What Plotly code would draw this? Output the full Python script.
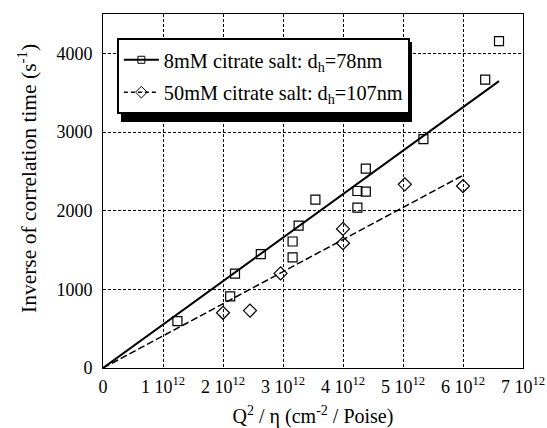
import plotly.graph_objects as go

# 8 mM citrate salt data (x in cm^-2/Poise, y in s^-1)
x_8mM = [1.24e12, 2.12e12, 2.20e12, 2.63e12, 3.16e12, 3.16e12, 3.26e12, 3.54e12,
         4.24e12, 4.24e12, 4.38e12, 4.38e12, 5.34e12, 6.37e12, 6.60e12]
y_8mM = [595, 910, 1200, 1447, 1405, 1608, 1811, 2141,
         2039, 2250, 2242, 2534, 2910, 3667, 4154]
# 50 mM citrate salt data
x_50mM = [2.00e12, 2.45e12, 2.96e12, 4.00e12, 4.00e12, 5.03e12, 6.00e12]
y_50mM = [702, 730, 1202, 1586, 1768, 2335, 2313]
# linear fits through origin
fit8_x = [0, 6.6e12]
fit8_y = [0, 3646]
fit50_x = [0, 6.0e12]
fit50_y = [0, 2449]

x_tickvals = [0, 1e12, 2e12, 3e12, 4e12, 5e12, 6e12, 7e12]
x_ticktext = ["0", "1 10<sup>12</sup>", "2 10<sup>12</sup>", "3 10<sup>12</sup>",
              "4 10<sup>12</sup>", "5 10<sup>12</sup>", "6 10<sup>12</sup>", "7 10<sup>12</sup>"]
y_tickvals = [0, 1000, 2000, 3000, 4000]

label8 = "8mM citrate salt: d<sub>h</sub>=78nm"
label50 = "50mM citrate salt: d<sub>h</sub>=107nm"
x_title = "Q<sup>2</sup> / η (cm<sup>-2</sup> / Poise)"
y_title = "Inverse of correlation time (s<sup>-1</sup>)"

FONT = "Liberation Serif"

fig = go.Figure()
fig.add_trace(go.Scatter(x=fit8_x, y=fit8_y, mode="lines",
                         line=dict(color="black", width=2), showlegend=False))
fig.add_trace(go.Scatter(x=fit50_x, y=fit50_y, mode="lines",
                         line=dict(color="black", width=1.5, dash="7px,3px"), showlegend=False))
fig.add_trace(go.Scatter(x=x_8mM, y=y_8mM, mode="markers",
                         marker=dict(symbol="square-open", size=9, color="black",
                                     line=dict(width=1.2)), showlegend=False))
fig.add_trace(go.Scatter(x=x_50mM, y=y_50mM, mode="markers",
                         marker=dict(symbol="diamond-open", size=10, color="black",
                                     line=dict(width=1.2)), showlegend=False))
# legend entries
fig.add_trace(go.Scatter(x=[None], y=[None], mode="lines+markers", name=label8,
                         legendgroup="a",
                         line=dict(color="black", width=2),
                         marker=dict(symbol="square-open", size=7, color="black")))
fig.add_trace(go.Scatter(x=[None], y=[None], mode="lines+markers", name=label50,
                         legendgroup="b",
                         line=dict(color="black", width=1.5, dash="4px,3px"),
                         marker=dict(symbol="diamond-open", size=9, color="black")))

axis_common = dict(showline=True, linecolor="black", linewidth=1, mirror=True,
                   showgrid=True, gridcolor="black", gridwidth=0.8, griddash="3px,2px",
                   zeroline=False, ticks="", automargin=False,
                   tickfont=dict(family=FONT, size=18, color="black"))

fig.update_xaxes(range=[0, 7e12], tickvals=x_tickvals, ticktext=x_ticktext,
                 title=dict(text=x_title,
                            font=dict(family=FONT, size=20, color="black"), standoff=16),
                 ticklabelstandoff=2,
                 **axis_common)
fig.update_yaxes(range=[0, 4500], tickvals=y_tickvals,
                 ticklabelstandoff=6,
                 **axis_common)

fig.add_annotation(text=y_title, textangle=-90, xref="paper", yref="paper",
                   x=(27 - 103) / 420, y=(368 - 179) / 354,
                   xanchor="center", yanchor="middle", showarrow=False,
                   font=dict(family=FONT, size=21.5, color="black"))

fig.update_layout(
    width=547, height=428,
    margin=dict(l=103, r=24, t=14, b=60),
    paper_bgcolor="white", plot_bgcolor="white",
    font=dict(family=FONT, size=18, color="black"),
    legend=dict(x=0.033, y=0.932, xanchor="left", yanchor="top",
                bgcolor="white", bordercolor="black", borderwidth=2,
                font=dict(family=FONT, size=20.3, color="black"),
                itemwidth=35, tracegroupgap=3),
    shapes=[dict(type="rect", xref="paper", yref="paper",
                 x0=(121 - 103) / 420, x1=(412 - 103) / 420,
                 y0=(368 - 122) / 354, y1=(368 - 42) / 354,
                 fillcolor="black", line=dict(width=0), layer="above")],
)

fig.write_html("out.html", post_script="document.body.style.margin='0';",
               config={"displayModeBar": False})
